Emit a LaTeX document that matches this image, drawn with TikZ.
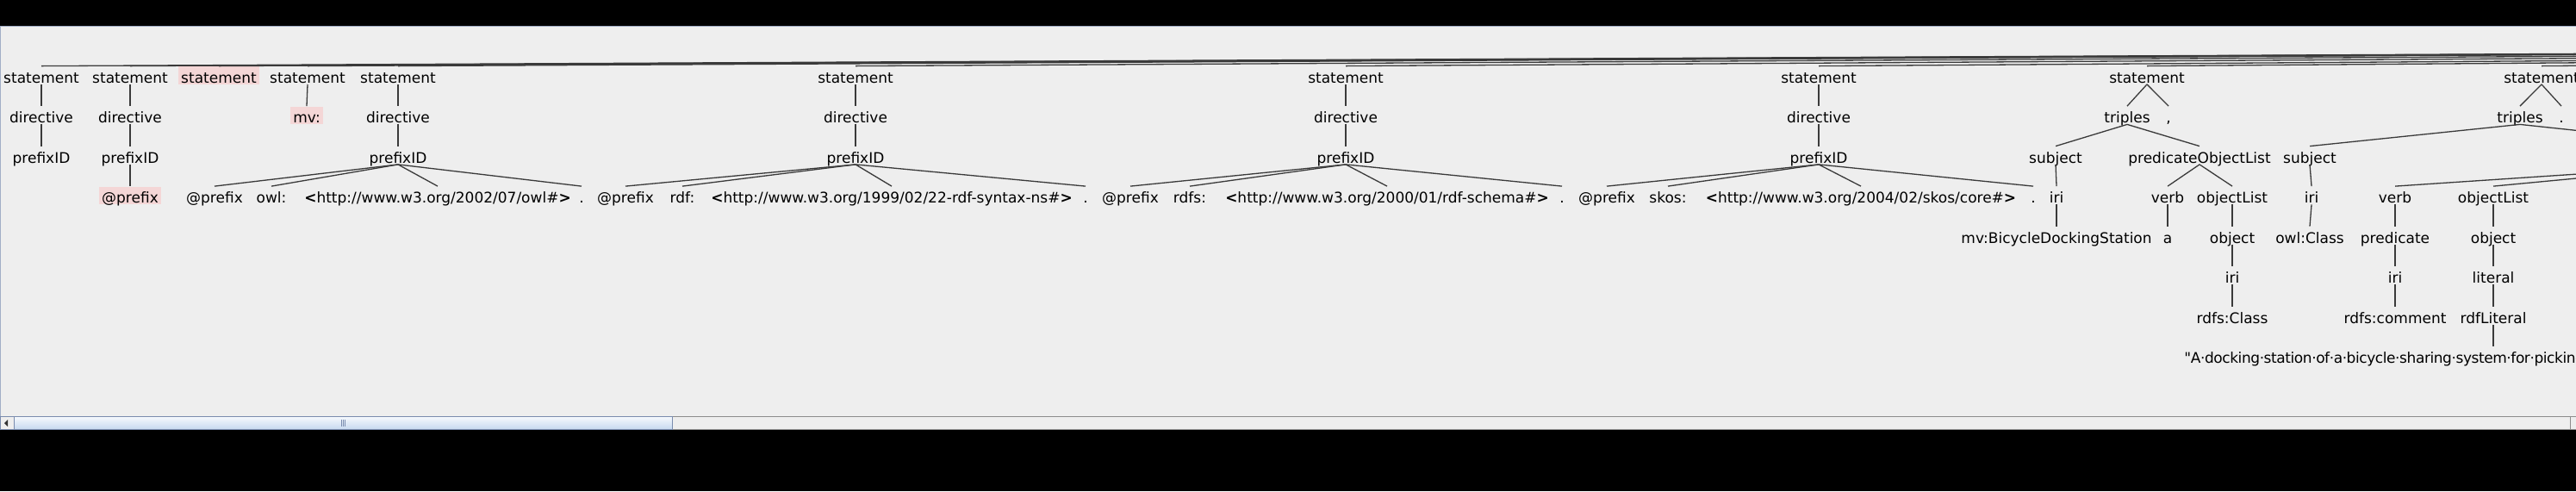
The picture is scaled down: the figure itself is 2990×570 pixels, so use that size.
\documentclass[tikz,border=0pt]{standalone}
\usepackage{fontspec}
\newfontfamily\treefont{DejaVu Sans}[Ligatures=TeXOff]
\definecolor{panelgray}{HTML}{EEEEEE}
\definecolor{hlpink}{HTML}{F4D6D6}
\definecolor{edgegray}{HTML}{3A3A3A}
\definecolor{thumbline}{HTML}{7A8CAE}
\definecolor{thumbtop}{HTML}{F6F9FE}
\definecolor{thumbbot}{HTML}{C6D8EE}
\definecolor{trackline}{HTML}{8C8C8C}
\newcommand\lan{\textbf{<}}
\newcommand\ran{\textbf{>}}
\tikzset{
  tn/.style={font=\treefont\fontsize{8.5pt}{10pt}\selectfont, anchor=base,
    inner xsep=1.5pt, inner ysep=0pt, text height=9.5pt, text depth=0.75pt},
  hl/.style={tn, fill=hlpink},
  every edge/.style={draw=edgegray, line width=0.65pt}
}
\begin{document}
\begin{tikzpicture}[x=0.5pt,y=-0.5pt] % parse tree viewer, px units
  \useasboundingbox (0,0) rectangle (2990,570);
  \fill[black] (0,0) rectangle (2990,570);
  \fill[panelgray] (0,30) rectangle (2990,499);
  \draw[thumbline!70, line width=0.5pt] (0.5,499) -- (0.5,30.5) -- (2990,30.5);

  \begin{scope}
    \clip (1,31) rectangle (2990,483);
    % root lies far to the right, out of view
    \coordinate (root) at (6790,44);

    % statement -> directive -> prefixID
    \foreach \i/\x in {1/48,2/151,5/462,6/993,7/1562,8/2111} {
      \node[tn] (s\i) at (\x,96) {statement};
      \node[tn] (d\i) at (\x,142.5) {directive};
      \node[tn] (p\i) at (\x,189) {prefixID};
      \path (s\i.south) edge (d\i.north)
            (d\i.south) edge (p\i.north);
    };
    \node[hl] (k2) at (151,235.5) {@prefix};
    \path (p2.south) edge (k2.north);
    \node[hl] (s3) at (254,96) {statement};
    \node[tn] (s4) at (357,96) {statement};
    \node[hl] (m4) at (356,142.5) {mv:};
    \path (s4.south) edge (m4.north);

    % prefix lines
    \node[tn] (k5) at (249,235.5) {@prefix};
    \node[tn] (n5) at (315,235.5) {owl:};
    \node[tn] (u5) at (508,235.5) {\lan http://www.w3.org/2002/07/owl\#\ran};
    \node[tn] (t5) at (675,235.5) {.};
    \node[tn] (k6) at (726,235.5) {@prefix};
    \node[tn] (n6) at (792,235.5) {rdf:};
    \node[tn] (u6) at (1035,235.5) {\lan http://www.w3.org/1999/02/22-rdf-syntax-ns\#\ran};
    \node[tn] (t6) at (1260,235.5) {.};
    \node[tn] (k7) at (1312,235.5) {@prefix};
    \node[tn] (n7) at (1381,235.5) {rdfs:};
    \node[tn] (u7) at (1610,235.5) {\lan http://www.w3.org/2000/01/rdf-schema\#\ran};
    \node[tn] (t7) at (1813,235.5) {.};
    \node[tn] (k8) at (1865,235.5) {@prefix};
    \node[tn] (n8) at (1936,235.5) {skos:};
    \node[tn] (u8) at (2160,235.5) {\lan http://www.w3.org/2004/02/skos/core\#\ran};
    \node[tn] (t8) at (2360,235.5) {.};
    \foreach \i in {5,...,8}
      \foreach \c in {k,n,u,t}
        \path (p\i.south) edge (\c\i.north);

    % first triples
    \node[tn] (s9) at (2492,96) {statement};
    \node[tn] (tr9) at (2469,142.5) {triples};
    \node[tn] (c9) at (2517,142.5) {,};
    \node[tn] (sb9) at (2386,189) {subject};
    \node[tn] (po9) at (2553,189) {predicateObjectList};
    \node[tn] (i9) at (2387,235.5) {iri};
    \node[tn] (v9) at (2516,235.5) {verb};
    \node[tn] (ol9) at (2591,235.5) {objectList};
    \node[tn] (bd9) at (2387,282) {mv:BicycleDockingStation};
    \node[tn] (a9) at (2516,282) {a};
    \node[tn] (ob9) at (2591,282) {object};
    \node[tn] (j9) at (2591,328.5) {iri};
    \node[tn] (rc9) at (2591,375) {rdfs:Class};
    \foreach \a/\b in {s9/tr9,s9/c9,tr9/sb9,tr9/po9,sb9/i9,i9/bd9,
                       po9/v9,po9/ol9,v9/a9,ol9/ob9,ob9/j9,j9/rc9}
      \path (\a.south) edge (\b.north);

    % second triples, cut at the right edge
    \node[tn] (s10) at (2950,96) {statement};
    \node[tn] (tr10) at (2925,142.5) {triples};
    \node[tn] (e10) at (2973,142.5) {.};
    \node[tn] (sb10) at (2681,189) {subject};
    \coordinate (po10n) at (3165,170);
    \coordinate (po10s) at (3165,190.5);
    \node[tn] (i10) at (2683,235.5) {iri};
    \node[tn] (oc10) at (2681,282) {owl:Class};
    \node[tn] (v10) at (2780,235.5) {verb};
    \node[tn] (ol10) at (2894,235.5) {objectList};
    \node[tn] (pr10) at (2780,282) {predicate};
    \node[tn] (j10) at (2780,328.5) {iri};
    \node[tn] (cm10) at (2780,375) {rdfs:comment};
    \node[tn] (ob10) at (2894,282) {object};
    \node[tn] (li10) at (2894,328.5) {literal};
    \node[tn] (rl10) at (2894,375) {rdfLiteral};
    \node[tn, anchor=base west] (st10) at (2532,421.5)
      {\addfontfeature{LetterSpace=-2.5}"A·docking·station·of·a·bicycle·sharing·system·for·picking};
    \foreach \a/\b in {s10/tr10,s10/e10,tr10/sb10,sb10/i10,i10/oc10,
                       v10/pr10,pr10/j10,j10/cm10,ol10/ob10,ob10/li10,li10/rl10}
      \path (\a.south) edge (\b.north);
    \path (tr10.south) edge (po10n)
          (po10s) edge (v10.north)
          (po10s) edge (ol10.north)
          (rl10.south) edge (rl10.south |- st10.north);

    % every statement hangs from the root
    \foreach \i in {1,...,10}
      \path (s\i.north) edge (root);
  \end{scope}

  % horizontal scrollbar
  \fill[panelgray] (0,483) rectangle (2990,499);
  \draw[trackline, line width=0.5pt] (0,483.5) -- (2990,483.5)
    (0,498.5) -- (2990,498.5) (2983,483.5) -- (2983,498.5);
  \draw[thumbline, line width=0.5pt] (0.5,483.5) rectangle (16,498.5);
  \fill[black!80] (5,491) -- (9,487) -- (9,495) -- cycle;
  \shade[top color=thumbtop, bottom color=thumbbot] (16,483.5) rectangle (780,498.5);
  \draw[thumbline, line width=0.5pt] (16,483.5) rectangle (780,498.5);
  \foreach \g in {396,398,400}
    \draw[thumbline, line width=0.4pt] (\g,487) -- (\g,495);
\end{tikzpicture}
\end{document}
